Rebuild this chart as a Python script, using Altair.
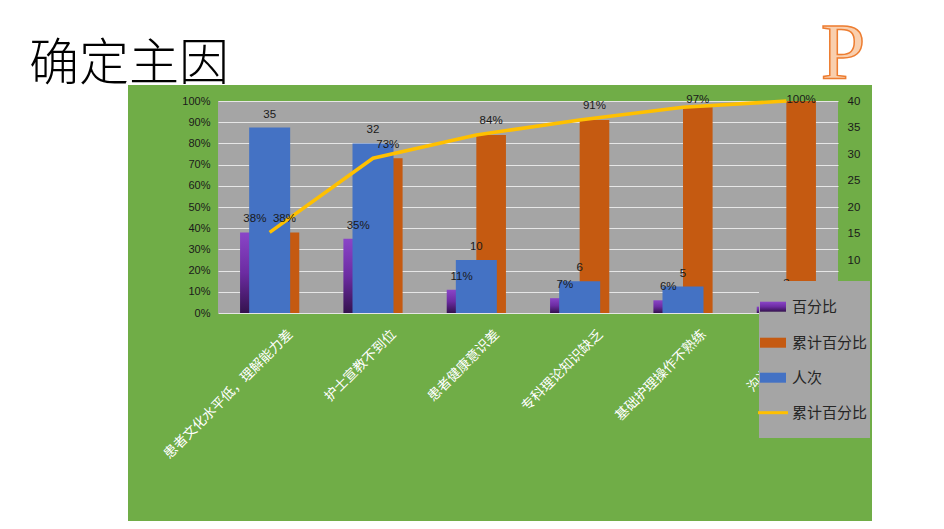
import altair as alt
import pandas as pd

# ---------------- data ----------------
cats = ["患者文化水平低，理解能力差", "护士宣教不到位", "患者健康意识差",
        "专科理论知识缺乏", "基础护理操作不熟练", "沟通技巧欠缺"]
pct = [0.38, 0.35, 0.11, 0.07, 0.06, 0.03]          # 百分比
cum = [0.38, 0.73, 0.84, 0.91, 0.97, 1.00]          # 累计百分比
counts = [35, 32, 10, 6, 5, 3]                       # 人次
legend_names = ["百分比", "累计百分比", "人次", "累计百分比"]
pct_ticks = [0, 0.1, 0.2, 0.3, 0.4, 0.5, 0.6, 0.7, 0.8, 0.9, 1.0]
count_ticks = [0, 5, 10, 15, 20, 25, 30, 35, 40]
title_text = "确定主因"
corner_text = "P"

# ---------------- style ----------------
GREEN = "#70AD47"
GRAY = "#A5A5A5"
ORANGE = "#C55A11"
BLUE = "#4472C4"
YELLOW = "#FFC000"
TXT = "#1a1a1a"
NUMFONT = "Liberation Sans"
CJK = "Noto Sans CJK SC"

W, H = 620, 212
PAD = {"left": 210, "top": 93, "right": 98, "bottom": 208}

purple_grad = alt.Gradient(
    gradient="linear",
    stops=[alt.GradientStop(color="#8A45C8", offset=0),
           alt.GradientStop(color="#6C2CA2", offset=0.5),
           alt.GradientStop(color="#34124E", offset=1)],
    x1=0, x2=0, y1=0, y2=1)

df = pd.DataFrame({"cat": cats, "pct": pct, "cum": cum, "n": counts})
one = pd.DataFrame({"k": [0]})

xenc = alt.X("cat:N", sort=cats,
             scale=alt.Scale(paddingInner=0.427, paddingOuter=0.2135),
             axis=alt.Axis(title=None, labelAngle=315, labelColor="white",
                           labelFont=CJK, labelFontSize=13.5, labelPadding=14,
                           labelOffset=16, labelLimit=400, ticks=False,
                           domain=False, zindex=0))
offs = alt.XOffset("s:N", scale=alt.Scale(domain=["百分比", "累计百分比"],
                                          paddingInner=0, paddingOuter=0))
yl_axis = alt.Axis(title=None, format=".0%", values=pct_ticks, grid=True,
                   gridColor="#E6E6E6", gridWidth=1, ticks=False, domain=False,
                   labelFont=NUMFONT, labelFontSize=11, labelColor=TXT,
                   labelPadding=8, zindex=0)
yr_axis = alt.Axis(title=None, orient="right", values=count_ticks, grid=False,
                   ticks=False, domain=False, labelFont=NUMFONT,
                   labelFontSize=11.5, labelColor=TXT, labelPadding=9, zindex=0)
lscale = alt.Scale(domain=[0, 1])
rscale = alt.Scale(domain=[0, 40])

base = alt.Chart(df)

purple = base.transform_calculate(s="'百分比'").mark_bar(color=purple_grad).encode(
    x=xenc, xOffset=offs, y=alt.Y("pct:Q", scale=lscale, axis=yl_axis))
orange = base.transform_calculate(s="'累计百分比'").mark_bar(color=ORANGE).encode(
    x=xenc, xOffset=offs, y=alt.Y("cum:Q", scale=lscale, axis=None))
blue = base.mark_bar(color=BLUE, size=41).encode(
    x=xenc, y=alt.Y("n:Q", scale=rscale, axis=yr_axis))
line = base.mark_line(color=YELLOW, strokeWidth=3.5).encode(
    x=xenc, y=alt.Y("cum:Q", scale=lscale, axis=None))

lab_kw = dict(font=NUMFONT, fontSize=11.5, color=TXT, baseline="alphabetic")
purple_lab = base.transform_calculate(s="'百分比'").mark_text(dy=-10, **lab_kw).encode(
    x=xenc, xOffset=offs, y=alt.Y("pct:Q", scale=lscale, axis=None),
    text=alt.Text("pct:Q", format=".0%"))
orange_lab = base.transform_calculate(
    s="'累计百分比'", ly="min(datum.cum + 0.05, 0.99)").mark_text(**lab_kw).encode(
    x=xenc, xOffset=offs, y=alt.Y("ly:Q", scale=lscale, axis=None),
    text=alt.Text("cum:Q", format=".0%"))
blue_lab = base.mark_text(dy=-10, **lab_kw).encode(
    x=xenc, y=alt.Y("n:Q", scale=rscale, axis=None), text=alt.Text("n:Q"))

# ---------------- decorations (page frame, title, legend) ----------------
deco = alt.Chart(one)


def box(x0, x1, y0, y1, color):
    return deco.mark_rect(color=color).encode(
        x=alt.value(x0), x2=alt.value(x1), y=alt.value(y0), y2=alt.value(y1))


white_top = box(-210, 718, -93, -16, "white")
white_left = box(-210, -90, -16, 420, "white")
white_right = box(654, 718, -16, 420, "white")

title = deco.mark_text(font=CJK, fontSize=50, fontWeight=300, color="black",
                       align="left", baseline="middle").encode(
    x=alt.value(-189), y=alt.value(-36), text=alt.value(title_text))
corner = deco.mark_text(font="Liberation Serif", fontSize=80, fill="#F9CFAE",
                        stroke="#ED7D31", strokeWidth=1.5, align="center",
                        baseline="alphabetic").encode(
    x=alt.value(625), y=alt.value(-22), text=alt.value(corner_text))

leg_box = box(541, 652, 180, 337, GRAY)
leg_y = [205.7, 241.7, 276.7, 311.7]
leg_sym = [
    box(542, 568, leg_y[0] - 5, leg_y[0] + 5, purple_grad),
    box(542, 568, leg_y[1] - 5, leg_y[1] + 5, ORANGE),
    box(542, 568, leg_y[2] - 5, leg_y[2] + 5, BLUE),
    deco.mark_rule(color=YELLOW, strokeWidth=3).encode(
        x=alt.value(540), x2=alt.value(570), y=alt.value(leg_y[3])),
]
leg_txt = [
    deco.mark_text(font=CJK, fontSize=15, color="#262626", align="left",
                   baseline="middle").encode(
        x=alt.value(574), y=alt.value(yy), text=alt.value(name))
    for yy, name in zip(leg_y, legend_names)
]

chart = alt.layer(
    purple, orange, blue, line, purple_lab, orange_lab, blue_lab,
    white_top, white_left, white_right, title, corner,
    leg_box, *leg_sym, *leg_txt,
).resolve_scale(y="independent").properties(
    width=W, height=H, padding=PAD, autosize=alt.AutoSizeParams(type="none"),
).configure(background=GREEN).configure_view(fill=GRAY, stroke=None)

chart.save("out.html", embed_options={"renderer": "svg", "actions": False})
